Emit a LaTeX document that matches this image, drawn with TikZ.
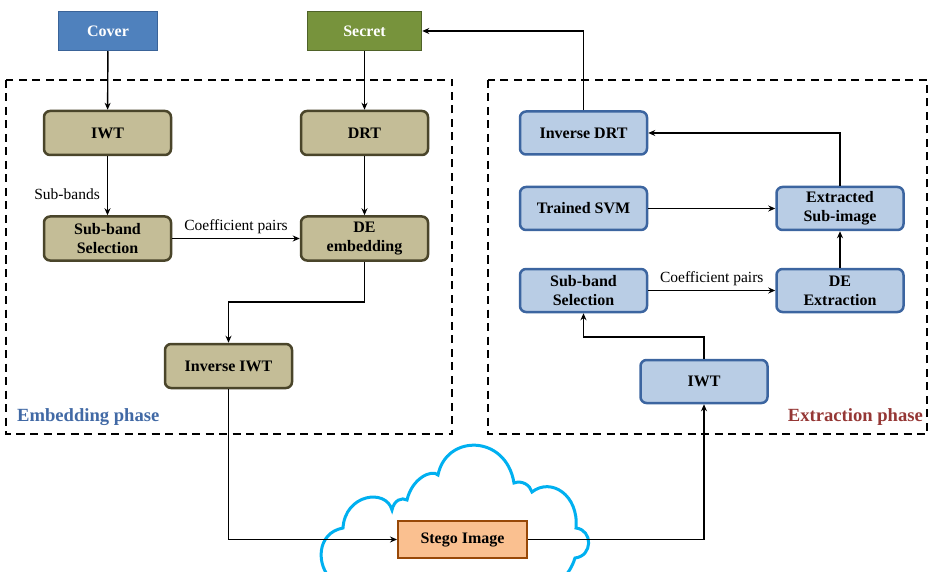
\documentclass[tikz,border=0pt]{standalone}
\usepackage{fontspec}
\setmainfont{Liberation Serif}
\usetikzlibrary{arrows.meta}

\definecolor{coverfill}{HTML}{4F81BD}
\definecolor{coverline}{HTML}{3A6398}
\definecolor{secretfill}{HTML}{77933C}
\definecolor{secretline}{HTML}{4F6228}
\definecolor{olivefill}{HTML}{C4BD97}
\definecolor{oliveline}{HTML}{4A452A}
\definecolor{bluefill}{HTML}{B9CDE5}
\definecolor{blueline}{HTML}{3C65A0}
\definecolor{stegofill}{HTML}{FAC090}
\definecolor{stegoline}{HTML}{984807}
\definecolor{cloudline}{HTML}{00B0F0}
\definecolor{embedtext}{HTML}{4169A5}
\definecolor{extracttext}{HTML}{953735}

\tikzset{
  boxtext/.style={font=\fontsize{16}{19}\selectfont\bfseries, align=center, inner sep=0pt},
  srcbox/.style={boxtext, rectangle, text=white, line width=1.5pt},
  olivebox/.style={boxtext, rectangle, rounded corners=6pt, fill=olivefill, draw=oliveline,
    line width=2.5pt, minimum width=127pt, minimum height=44pt},
  bluebox/.style={boxtext, rectangle, rounded corners=6pt, fill=bluefill, draw=blueline,
    line width=2.5pt, minimum width=127pt, minimum height=43pt},
  conn/.style={line width=1.4pt, -{Stealth[length=7pt,width=6pt]}},
  lbl/.style={font=\fontsize{15.5}{18}\selectfont, inner sep=1pt},
  phase/.style={line width=2.5pt, dash pattern=on 8pt off 5.5pt},
  phaselbl/.style={font=\fontsize{18.6}{22}\selectfont\bfseries, inner sep=0pt}
}

\begin{document}
\begin{tikzpicture}[x=1pt, y=-1pt]
  \useasboundingbox (0,0) rectangle (929,572);

  % network cloud carrying the stego image
  \begin{scope}
    \clip (0,0) rectangle (929,572);
    \draw[cloudline, line width=3pt, fill=white]
      (332,580) .. controls (316,566) and (316,533) .. (343,528)
      .. controls (345,494) and (386,488) .. (392,510)
      .. controls (394,500) and (402,497) .. (407,500)
      .. controls (412,478) and (432,469) .. (438,475)
      .. controls (446,434) and (506,434) .. (514,483)
      .. controls (522,480) and (530,485) .. (532,492)
      .. controls (551,477) and (579,495) .. (576,528)
      .. controls (593,530) and (593,556) .. (575,558)
      .. controls (572,568) and (566,576) .. (560,582) -- cycle;
  \end{scope}

  % phase frames
  \draw[phase] (6,80) rectangle (452,434);
  \draw[phase] (488,80) rectangle (927,434);
  \node[phaselbl, text=embedtext, anchor=base west] (embl) at (17,421) {Embedding phase};
  \node[phaselbl, text=extracttext, anchor=base east] (extl) at (923,421) {Extraction phase};

  % inputs and output
  \node[srcbox, fill=coverfill, draw=coverline, minimum width=99pt, minimum height=39pt] (cover) at (108,31) {Cover};
  \node[srcbox, fill=secretfill, draw=secretline, minimum width=114pt, minimum height=39pt] (secret) at (364.5,31) {Secret};
  \node[boxtext, rectangle, fill=stegofill, draw=stegoline, line width=2pt,
        minimum width=129pt, minimum height=37pt] (stego) at (462.5,539.5) {Stego Image};

  % embedding side
  \node[olivebox] (iwtL) at (107.5,133) {IWT};
  \node[olivebox] (drt) at (364.5,133) {DRT};
  \node[olivebox] (sbsL) at (107.5,238.5) {Sub-band\\Selection};
  \node[olivebox] (deemb) at (364.5,238.5) {DE\\embedding};
  \node[olivebox] (iiwt) at (228.5,366) {Inverse IWT};

  % extraction side
  \node[bluebox] (idrt) at (583.5,133) {Inverse DRT};
  \node[bluebox] (svm) at (583.5,208.5) {Trained SVM};
  \node[bluebox] (exsub) at (840,208.5) {Extracted\\Sub-image};
  \node[bluebox] (sbsR) at (583.5,290.5) {Sub-band\\Selection};
  \node[bluebox] (deext) at (840,290.5) {DE\\Extraction};
  \node[bluebox] (iwtR) at (704,381.5) {IWT};

  % bend points
  \coordinate (j1) at (228.5,302);
  \coordinate (j2) at (583.5,337);

  % embedding flow
  \draw[conn] (cover) -- (iwtL);
  \draw[conn] (secret) -- (drt);
  \draw[conn] (iwtL) -- node[lbl, pos=0.64, left=6pt] {Sub-bands} (sbsL);
  \draw[conn] (drt) -- (deemb);
  \draw[conn] (sbsL) -- node[lbl, above=3pt] {Coefficient pairs} (deemb);
  \draw[conn] (deemb.south) |- (j1) -- (iiwt.north);
  \draw[conn] (iiwt.south) |- (stego.west);

  % extraction flow
  \draw[conn] (stego.east) -| (iwtR.south);
  \draw[conn] (iwtR.north) |- (j2) -- (sbsR.south);
  \draw[conn] (sbsR) -- node[lbl, above=3pt] {Coefficient pairs} (deext);
  \draw[conn] (deext) -- (exsub);
  \draw[conn] (svm) -- (exsub);
  \draw[conn] (exsub.north) |- (idrt.east);
  \draw[conn] (idrt.north) |- (secret.east);
\end{tikzpicture}
\end{document}
